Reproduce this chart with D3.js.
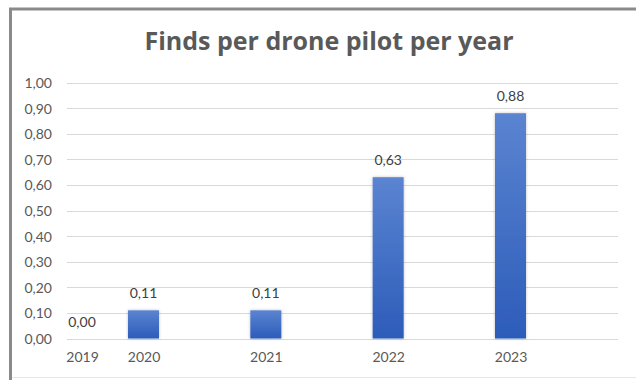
<!DOCTYPE html>
<html><head><meta charset="utf-8">
<script src="https://cdn.jsdelivr.net/npm/d3@7"></script>
<style>body{margin:0;background:#fff}svg{display:block}</style>
</head><body>
<svg id="c" width="636" height="380"></svg>
<script>
const title = "Finds per drone pilot per year";
const years = [2019, 2020, 2021, 2022, 2023];
const values = [0.00, 0.11, 0.11, 0.63, 0.88];
const yTicks = [0, 0.1, 0.2, 0.3, 0.4, 0.5, 0.6, 0.7, 0.8, 0.9, 1.0];

const svg = d3.select("#c");
const fmt = v => d3.format(".2f")(v).replace(".", ",");
const font = "Lato, 'Open Sans', sans-serif";

// frame
svg.append("rect").attr("x", 0).attr("y", 0).attr("width", 636).attr("height", 380).attr("fill", "#fff");
svg.append("line").attr("x1", 9).attr("x2", 636).attr("y1", 9).attr("y2", 9).attr("stroke", "#8a8a8a").attr("stroke-width", 3);
svg.append("line").attr("x1", 10.5).attr("x2", 10.5).attr("y1", 8).attr("y2", 380).attr("stroke", "#8a8a8a").attr("stroke-width", 3);
svg.append("line").attr("x1", 12).attr("x2", 636).attr("y1", 377.5).attr("y2", 377.5).attr("stroke", "#e6e6e6").attr("stroke-width", 1);

const y = d3.scaleLinear().domain([0, 1]).range([338.5, 82.5]);
const x = d3.scaleLinear().domain([2019, 2020, 2023]).range([82, 143.5, 510.5]);
const barW = 31;

// gradient
const defs = svg.append("defs");
const g = defs.append("linearGradient").attr("id", "bg").attr("x1", 0).attr("y1", 0).attr("x2", 0).attr("y2", 1);
g.append("stop").attr("offset", "0%").attr("stop-color", "#5b84d1");
g.append("stop").attr("offset", "100%").attr("stop-color", "#2c5cb9");
const f = defs.append("filter").attr("id", "sh").attr("x", "-30%").attr("y", "-10%").attr("width", "160%").attr("height", "130%");
f.append("feDropShadow").attr("dx", 0).attr("dy", 0).attr("stdDeviation", 1.5).attr("flood-color", "#000").attr("flood-opacity", 0.25);

// grid
const yAxis = d3.axisLeft(y).tickValues(yTicks).tickFormat(fmt).tickSize(0).tickPadding(0);
const ga = svg.append("g").attr("transform", "translate(52,0)").call(yAxis);
ga.select(".domain").remove();
ga.selectAll("text").attr("font-family", font).attr("font-size", 14).attr("fill", "#595959").attr("dy", "0.35em");
svg.append("g").selectAll("line").data(yTicks).join("line")
  .attr("x1", 67).attr("x2", 618)
  .attr("y1", d => Math.round(y(d)) + 0.5).attr("y2", d => Math.round(y(d)) + 0.5)
  .attr("stroke", "#d9d9d9").attr("stroke-width", 1);

// bars
svg.append("g").selectAll("rect").data(values).join("rect")
  .attr("x", (d, i) => x(years[i]) - barW / 2)
  .attr("width", barW)
  .attr("y", d => y(d))
  .attr("height", d => y(0) - y(d))
  .attr("fill", "url(#bg)")
  .attr("filter", "url(#sh)");

// value labels
svg.append("g").selectAll("text").data(values).join("text")
  .attr("x", (d, i) => x(years[i]))
  .attr("y", d => y(d) - 12)
  .attr("text-anchor", "middle")
  .attr("font-family", font).attr("font-size", 14).attr("fill", "#404040")
  .text(d => fmt(d));

// x labels
const xAxis = d3.axisBottom(x).tickValues(years).tickFormat(d3.format("d")).tickSize(0).tickPadding(0);
const gx = svg.append("g").attr("transform", "translate(0,352)").call(xAxis);
gx.select(".domain").remove();
gx.selectAll("text").attr("font-family", font).attr("font-size", 14).attr("fill", "#595959").attr("dy", "0.71em");

// title
svg.append("text").attr("x", 329).attr("y", 50).attr("text-anchor", "middle")
  .attr("font-family", "'Open Sans', sans-serif").attr("font-weight", "bold").attr("font-size", 25).attr("fill", "#595959")
  .text(title);
</script>
</body></html>
